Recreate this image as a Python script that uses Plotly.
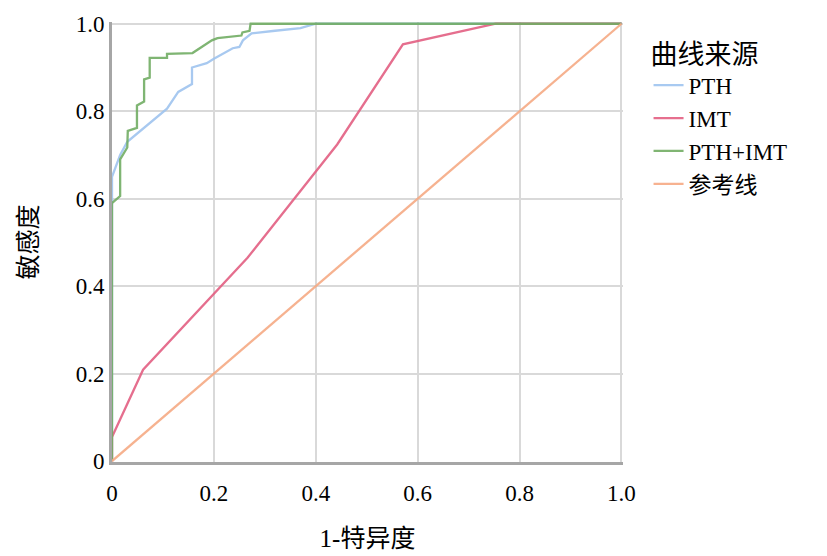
import plotly.graph_objects as go

# ROC curve data (1-specificity, sensitivity)
pth_x = [0, 0, 0.016, 0.03, 0.108, 0.13, 0.157, 0.157, 0.186, 0.2, 0.237, 0.25, 0.257, 0.274, 0.32, 0.37, 0.40, 1.0]
pth_y = [0, 0.65, 0.70, 0.73, 0.806, 0.844, 0.862, 0.90, 0.91, 0.92, 0.944, 0.947, 0.962, 0.978, 0.984, 0.99, 1.0, 1.0]

imt_x = [0, 0, 0.061, 0.266, 0.442, 0.571, 0.753, 1.0]
imt_y = [0, 0.055, 0.209, 0.465, 0.724, 0.953, 1.0, 1.0]

combo_x = [0, 0, 0.016, 0.016, 0.03, 0.031, 0.049, 0.049, 0.063, 0.063, 0.074, 0.074, 0.108, 0.108,
           0.158, 0.188, 0.196, 0.207, 0.254, 0.256, 0.27, 0.272, 1.0]
combo_y = [0, 0.59, 0.606, 0.69, 0.717, 0.755, 0.762, 0.813, 0.822, 0.873, 0.877, 0.922, 0.922, 0.931,
           0.933, 0.955, 0.962, 0.967, 0.973, 0.98, 0.984, 1.0, 1.0]

ref_x = [0, 1]
ref_y = [0, 1]

series_names = ["PTH", "IMT", "PTH+IMT", "参考线"]
tick_vals = [0, 0.2, 0.4, 0.6, 0.8, 1.0]
tick_text = ["0", "0.2", "0.4", "0.6", "0.8", "1.0"]

colors = ["#9fc4ef", "#e35f82", "#72ad64", "#f6aa84"]

FONT = "Liberation Serif, Noto Sans CJK SC, serif"

fig = go.Figure()
for name, xs, ys, c in zip(series_names,
                           [pth_x, imt_x, combo_x, ref_x],
                           [pth_y, imt_y, combo_y, ref_y],
                           colors):
    fig.add_trace(go.Scatter(x=xs, y=ys, mode="lines", name=name,
                             line=dict(color=c, width=2.3), opacity=0.9))

axis_common = dict(
    tickvals=tick_vals, ticktext=tick_text,
    showgrid=True, gridcolor="#d9d9d9", gridwidth=2,
    showline=True, linecolor="#a6a6a6", linewidth=3,
    zeroline=False, ticks="", automargin=False,
    ticklabeloverflow="allow",
    tickfont=dict(family=FONT, size=23, color="#000000"),
)

fig.update_layout(
    width=827, height=556,
    paper_bgcolor="white", plot_bgcolor="white",
    margin=dict(l=104, r=212, t=14, b=102),
    font=dict(family=FONT, color="#000000"),
    xaxis=dict(range=[0, 1.003], title=dict(text="1-特异度", font=dict(family=FONT, size=25), standoff=25),
               ticklabelstandoff=8, **axis_common),
    yaxis=dict(range=[-0.002, 1.004], title=dict(text="敏感度", font=dict(family=FONT, size=25), standoff=31),
               ticklabelstandoff=0, **axis_common),
    legend=dict(
        x=1.05, xanchor="left", y=0.985, yanchor="top",
        title=dict(text="曲线来源", font=dict(family=FONT, size=27)),
        font=dict(family=FONT, size=23),
        itemwidth=30, tracegroupgap=0,
        bgcolor="rgba(0,0,0,0)",
    ),
    showlegend=True,
)

fig.write_html("out.html")
